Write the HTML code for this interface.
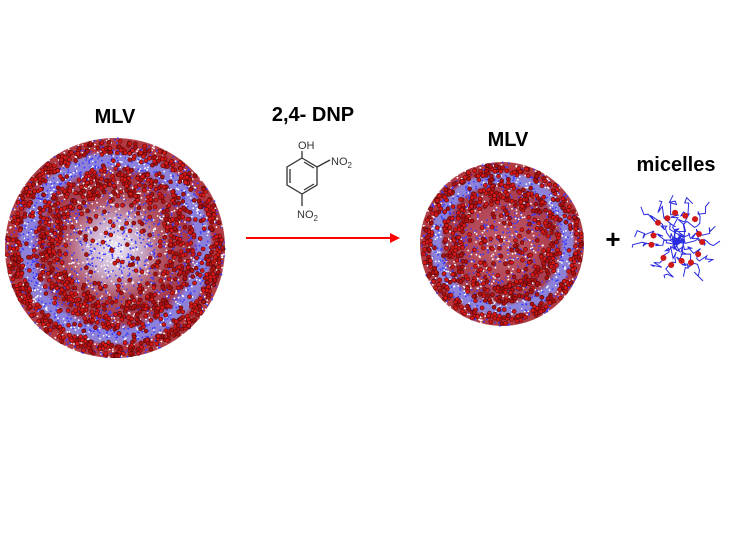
<!DOCTYPE html>
<html><head><meta charset="utf-8"><style>
html,body{margin:0;padding:0;background:#fff;}
svg{display:block;}
text{font-family:"Liberation Sans",Arial,sans-serif;}
</style></head><body>
<svg id="s" width="737" height="552" viewBox="0 0 737 552" xmlns="http://www.w3.org/2000/svg">
<defs>
<radialGradient id="g1" cx="0.5" cy="0.5" r="0.5">
<stop offset="0" stop-color="#eeeaf8"/>
<stop offset="0.25" stop-color="#c8a8c8"/>
<stop offset="0.45" stop-color="#b05060"/>
<stop offset="0.68" stop-color="#a83848"/>
<stop offset="0.76" stop-color="#8a80e0"/>
<stop offset="0.86" stop-color="#9080d0"/>
<stop offset="0.9" stop-color="#b83038"/>
<stop offset="1" stop-color="#b04048"/>
</radialGradient>
<radialGradient id="g2" cx="0.5" cy="0.5" r="0.5">
<stop offset="0" stop-color="#c06070"/>
<stop offset="0.55" stop-color="#b04050"/>
<stop offset="0.7" stop-color="#a84050"/>
<stop offset="0.76" stop-color="#8a84e0"/>
<stop offset="0.86" stop-color="#9080d0"/>
<stop offset="0.9" stop-color="#b83038"/>
<stop offset="1" stop-color="#b04048"/>
</radialGradient>
</defs>
<text x="115" y="123" font-size="20" font-weight="bold" text-anchor="middle">MLV</text>
<text x="313" y="121" font-size="20" font-weight="bold" text-anchor="middle">2,4- DNP</text>
<text x="508" y="146" font-size="20" font-weight="bold" text-anchor="middle">MLV</text>
<text x="676" y="171" font-size="20" font-weight="bold" text-anchor="middle">micelles</text>
<text x="613" y="248" font-size="26" font-weight="bold" text-anchor="middle">+</text>
<g stroke="#333" stroke-width="1.3" fill="none">
<polygon points="302,158 317,167 317,185 302,194 287,185 287,167"/>
<line x1="290" y1="169" x2="290" y2="183"/>
<line x1="304" y1="162" x2="314" y2="168"/>
<line x1="304" y1="190" x2="314" y2="184"/>
<line x1="302" y1="158" x2="302" y2="151"/>
<line x1="317" y1="167" x2="330" y2="160"/>
<line x1="302" y1="194" x2="302" y2="206"/>
</g>
<text x="298" y="149" font-size="11" fill="#333">OH</text>
<text x="331" y="165" font-size="11" fill="#333">NO<tspan font-size="8" dy="3">2</tspan></text>
<text x="297" y="218" font-size="11" fill="#333">NO<tspan font-size="8" dy="3">2</tspan></text>
<line x1="246" y1="238" x2="392" y2="238" stroke="#f00" stroke-width="2"/>
<polygon points="400,238 390,233 390,243" fill="#f00"/>
<circle cx="115" cy="248" r="110" fill="url(#g1)"/>
<circle cx="502" cy="244" r="82" fill="url(#g2)"/>
<g id="dots"></g>
<g id="mic" stroke="#2a2ae0" stroke-width="1" fill="none"></g>
</svg>
<script>
var ns="http://www.w3.org/2000/svg",d=document.getElementById("dots"),m=document.getElementById("mic"),S=document.getElementById("s");
var seed=7;function r(){seed=(seed*16807)%2147483647;return seed/2147483647;}
function dot(x,y,rad,f,st){var c=document.createElementNS(ns,"circle");c.setAttribute("cx",x.toFixed(1));c.setAttribute("cy",y.toFixed(1));c.setAttribute("r",rad);c.setAttribute("fill",f);if(st){c.setAttribute("stroke",st);c.setAttribute("stroke-width","0.6");}d.appendChild(c);}
function sph(cx,cy,R,n,big){
for(var i=0;i<n;i++){var a=r()*6.283,t=Math.sqrt(r())*R;var x=cx+Math.cos(a)*t,y=cy+Math.sin(a)*t;dot(x,y,0.9,r()<0.6?"#3a3aff":"#ffffff");}
for(var i=0;i<big;i++){var a=r()*6.283,u=r(),t;
if(u<0.32)t=0.88+r()*0.12;else if(u<0.67)t=0.5+r()*0.25;else t=Math.sqrt(r());
t*=R-2;dot(cx+Math.cos(a)*t,cy+Math.sin(a)*t,2,r()<0.6?"#d81818":"#b01010","#500808");}}
sph(115,248,110,2500,1300);sph(502,244,82,1400,750);
var cx=678,cy=240;
for(var k=0;k<14;k++){var a=k/14*6.283+r()*0.3,L=34+r()*16;var p="M"+cx+","+cy;var x,y;
for(var j=0;j<16;j++){x=cx+Math.cos(a)*L*j/15+(r()-0.5)*10;y=cy+Math.sin(a)*L*j/15+(r()-0.5)*10;p+=" L"+x.toFixed(1)+","+y.toFixed(1);}
var e=document.createElementNS(ns,"path");e.setAttribute("d",p);m.appendChild(e);
var c=document.createElementNS(ns,"circle");c.setAttribute("cx",cx+Math.cos(a)*L*0.6);c.setAttribute("cy",cy+Math.sin(a)*L*0.6);c.setAttribute("r",3);c.setAttribute("fill","#d01818");S.appendChild(c);}
</script>
</body></html>
